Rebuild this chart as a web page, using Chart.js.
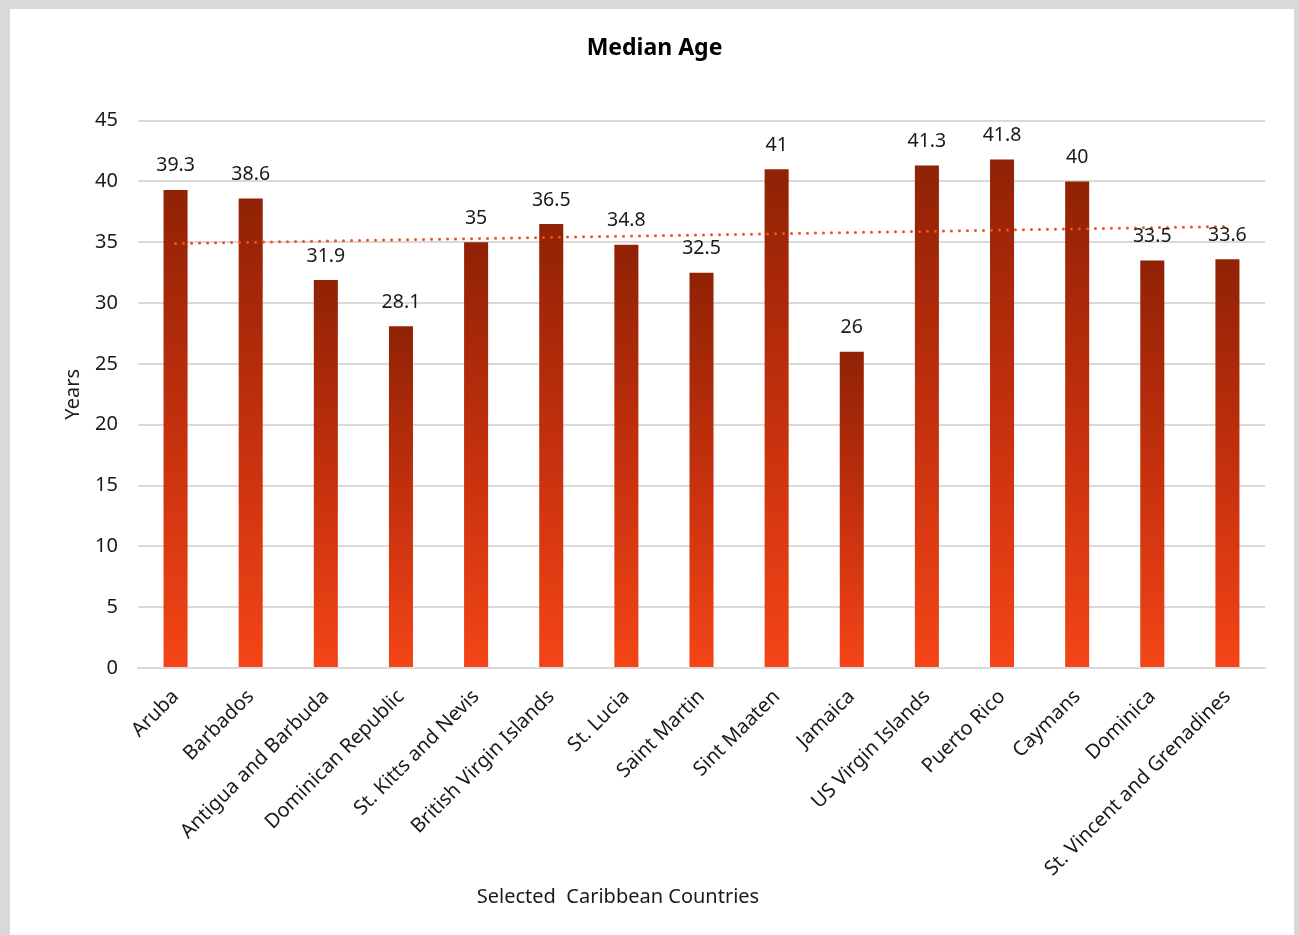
<!DOCTYPE html>
<html>
<head>
<meta charset="utf-8">
<script src="https://cdn.jsdelivr.net/npm/chart.js@4.4.1/dist/chart.umd.min.js"></script>
<style>
  html, body { margin: 0; padding: 0; background: #d9d9d9; width: 1299px; height: 935px; overflow: hidden; }
  #box { position: absolute; left: 10px; top: 9px; width: 1284px; height: 926px; background: #ffffff; }
  canvas { display: block; }
</style>
</head>
<body>
<div id="box"><canvas id="c" width="1284" height="926"></canvas></div>
<script>
const categories = ["Aruba", "Barbados", "Antigua and Barbuda", "Dominican Republic", "St. Kitts and Nevis",
  "British Virgin Islands", "St. Lucia", "Saint Martin", "Sint Maaten", "Jamaica", "US Virgin Islands",
  "Puerto Rico", "Caymans", "Dominica", "St. Vincent and Grenadines"];
const medianAge = [39.3, 38.6, 31.9, 28.1, 35, 36.5, 34.8, 32.5, 41, 26, 41.3, 41.8, 40, 33.5, 33.6];
// Linear trendline: start value (first category) and end value (last category)
const trendStart = 34.9;
const trendEnd = 36.3;
const trendline = categories.map((c, i) => i === 0 ? trendStart : (i === categories.length - 1 ? trendEnd : null));
const yTicks = [0, 5, 10, 15, 20, 25, 30, 35, 40, 45];
const xAxisTitle = 'Selected  Caribbean Countries';

const FONT = "'Noto Sans', 'Open Sans', sans-serif";

const valueLabels = {
  id: 'valueLabels',
  afterDatasetsDraw(chart) {
    const meta = chart.getDatasetMeta(0);
    const ctx = chart.ctx;
    ctx.save();
    ctx.font = "19.5px " + FONT;
    ctx.fillStyle = '#1a1a1a';
    ctx.textAlign = 'center';
    ctx.textBaseline = 'middle';
    meta.data.forEach((el, i) => {
      ctx.fillText(String(medianAge[i]), el.x, el.y - 24);
    });
    ctx.restore();
  }
};

// x-axis title, placed left of centre as in the original
const xTitle = {
  id: 'xTitle',
  afterDraw(chart) {
    const ctx = chart.ctx;
    const a = chart.chartArea;
    ctx.save();
    ctx.font = "20px " + FONT;
    ctx.fillStyle = '#1a1a1a';
    ctx.textAlign = 'center';
    ctx.textBaseline = 'middle';
    ctx.fillText(xAxisTitle, a.left + 480, a.bottom + 229);
    ctx.restore();
  }
};

new Chart(document.getElementById('c'), {
  data: {
    labels: categories,
    datasets: [
      {
        type: 'bar',
        label: 'Median Age',
        data: medianAge,
        backgroundColor: (ctx) => {
          const chart = ctx.chart;
          const area = chart.chartArea;
          if (!area || ctx.type !== 'data') return '#c0330f';
          const y = chart.scales.y;
          const top = y.getPixelForValue(ctx.raw);
          const bottom = y.getPixelForValue(0);
          const g = chart.ctx.createLinearGradient(0, top, 0, bottom);
          g.addColorStop(0, '#902205');
          g.addColorStop(0.5, '#c4300d');
          g.addColorStop(1, '#f44517');
          return g;
        },
        borderWidth: 0,
        barPercentage: 0.32,
        categoryPercentage: 1.0,
        order: 2
      },
      {
        type: 'line',
        label: 'Linear (Median Age)',
        data: trendline,
        spanGaps: true,
        borderColor: '#f0501e',
        borderWidth: 3,
        borderDash: [0, 8],
        borderCapStyle: 'round',
        pointRadius: 0,
        fill: false,
        order: 1
      }
    ]
  },
  options: {
    responsive: false,
    animation: false,
    devicePixelRatio: 1,
    layout: { padding: { left: 34, right: 29, top: 0, bottom: 24 } },
    plugins: {
      legend: { display: false },
      tooltip: { enabled: false },
      title: {
        display: true,
        text: 'Median Age',
        color: '#000000',
        font: { family: FONT, size: 23, weight: 'bold' },
        padding: { top: 26, bottom: 58 }
      }
    },
    scales: {
      x: {
        grid: { display: false, drawTicks: false },
        border: { display: true, color: '#d9d9d9', width: 2 },
        ticks: {
          color: '#1a1a1a',
          font: { family: FONT, size: 20 },
          maxRotation: 45,
          minRotation: 45,
          autoSkip: false,
          padding: 17
        },
        title: { display: false },
        afterFit: (s) => { s.height = 243; }
      },
      y: {
        min: 0,
        max: 45,
        afterBuildTicks: (s) => { s.ticks = yTicks.map(v => ({ value: v })); },
        grid: { color: '#d9d9d9', lineWidth: 2, drawTicks: false },
        border: { display: false },
        ticks: {
          color: '#1a1a1a',
          font: { family: FONT, size: 20 },
          padding: 20
        },
        title: {
          display: true,
          text: 'Years',
          color: '#1a1a1a',
          font: { family: FONT, size: 20 },
          padding: { top: 17, bottom: 4 }
        },
        afterFit: (s) => { s.width = 94; }
      }
    }
  },
  plugins: [valueLabels, xTitle]
});
</script>
</body>
</html>
